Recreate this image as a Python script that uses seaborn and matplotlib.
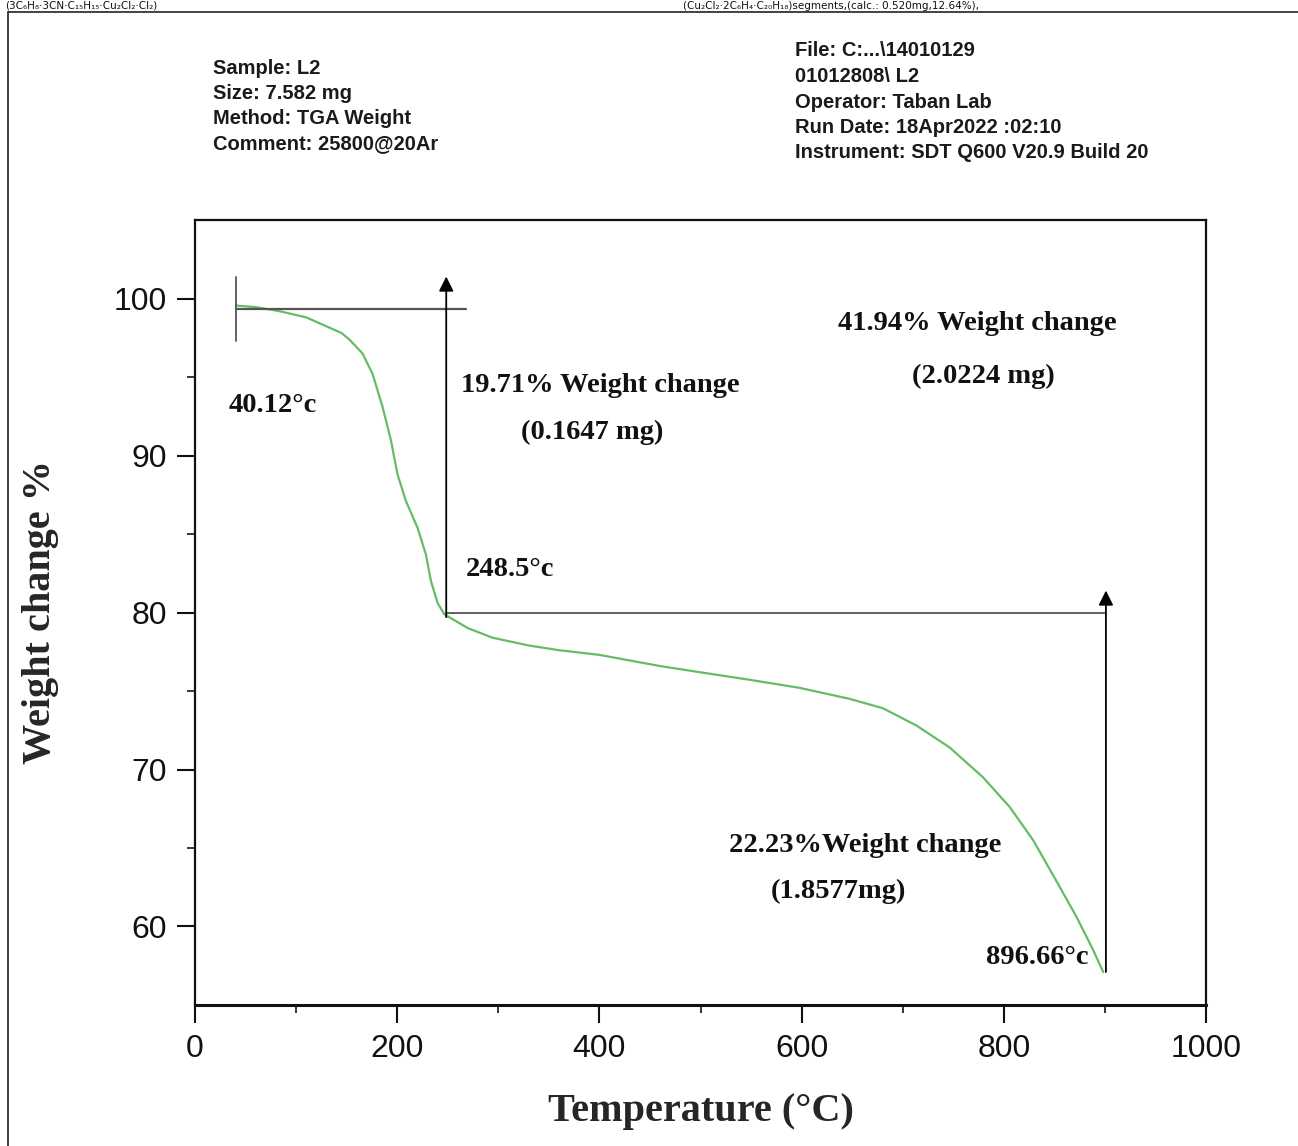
import numpy as np
import pandas as pd
import matplotlib
matplotlib.use("Agg")
import matplotlib.pyplot as plt
from matplotlib.lines import Line2D
from matplotlib.ticker import FixedLocator
import seaborn as sns

# ---------------- data ----------------
temperature = [40.6, 60, 83, 110, 132.7, 145, 152.5, 165.7, 175.6, 185.5, 193.7, 200.3,
               208.6, 220.1, 228.4, 233.4, 240, 246.5, 251.5, 270, 294, 330, 360,
               400, 459, 499, 550, 598, 647.5, 680.5, 713.6, 746.5, 779.5, 806,
               829, 852, 872, 888.4, 898.3]
weight = [99.55, 99.45, 99.2, 98.8, 98.15, 97.8, 97.4, 96.5, 95.2, 93.1, 91.0, 88.8,
          87.1, 85.4, 83.7, 82.0, 80.6, 79.9, 79.7, 79.0, 78.4, 77.9, 77.6,
          77.3, 76.6, 76.2, 75.7, 75.2, 74.5, 73.9, 72.8, 71.4, 69.5, 67.6,
          65.5, 62.9, 60.6, 58.5, 57.1]

# guide lines for the weight steps
step_temps = [40.6, 248.5, 901]
start_level = 99.36
mid_level = 80.0
start_marker = [97.3, 101.4]
top_line_end = 268
arrow1_top = 101.4
arrow2_bottom = 57.1
arrow2_top = 81.4

xticks = [0, 200, 400, 600, 800, 1000]
xminor = [100, 300, 500, 700, 900]
yticks = [60, 70, 80, 90, 100]
yminor = [65, 75, 85, 95]

header_left = ["Sample: L2", "Size: 7.582 mg", "Method: TGA Weight", "Comment: 25800@20Ar"]
header_right = ["File: C:...\\14010129", "01012808\\ L2", "Operator: Taban Lab",
                "Run Date: 18Apr2022 :02:10", "Instrument: SDT Q600 V20.9 Build 20"]
caption_left = "(3C₆H₈·3CN·C₁₅H₁₅·Cu₂Cl₂·Cl₂)"
caption_right = "(Cu₂Cl₂·2C₆H₄·C₂₀H₁₈)segments,(calc.: 0.520mg,12.64%),"

df = pd.DataFrame({"Temperature": temperature, "Weight": weight})

# ---------------- style ----------------
sns.set_theme(style="ticks")
plt.rcParams["font.family"] = ["Liberation Sans", "DejaVu Sans"]

W, H = 1298, 1146
fig = plt.figure(figsize=(W / 100, H / 100), dpi=100)
ax = fig.add_axes([195 / W, 1 - 1005 / H, 1011 / W, 785 / H])

sns.lineplot(data=df, x="Temperature", y="Weight", ax=ax, sort=False,
             estimator=None, color="#66bb66", lw=1.6)

ax.set_xlim(0, 1000)
ax.set_ylim(55, 105)
ax.set_xticks(xticks)
ax.set_yticks(yticks)
ax.xaxis.set_minor_locator(FixedLocator(xminor))
ax.yaxis.set_minor_locator(FixedLocator(yminor))
ax.tick_params(axis="both", which="major", direction="out", length=13, width=1.5,
               labelsize=23, colors="#111111")
ax.tick_params(axis="x", which="major", pad=8)
ax.tick_params(axis="y", which="major", pad=7)
ax.tick_params(axis="both", which="minor", direction="out", length=6, width=1.3)
for s in ax.spines.values():
    s.set_linewidth(1.6)
    s.set_color("#111111")
ax.spines["bottom"].set_linewidth(2.2)

serif = ["Liberation Serif", "DejaVu Serif"]
ax.set_xlabel("Temperature (°C)", fontsize=29, fontweight="bold", family=serif)
ax.set_ylabel("Weight change %", fontsize=29, fontweight="bold", family=serif)
ax.xaxis.set_label_coords(0.5, -0.112)
ax.yaxis.set_label_coords(-0.135, 0.5)

# ---------------- guide lines / arrows ----------------
gcol = "#555555"
ax.plot([step_temps[0], step_temps[0]], start_marker, color=gcol, lw=1.3)
ax.plot([step_temps[0], top_line_end], [start_level, start_level], color=gcol, lw=1.6)
ax.plot([step_temps[1], step_temps[2]], [mid_level, mid_level], color=gcol, lw=1.3)
ax.annotate("", xy=(step_temps[1], arrow1_top), xytext=(step_temps[1], weight[18]),
            arrowprops=dict(arrowstyle="-|>", color="black", lw=1.3, mutation_scale=22,
                            shrinkA=0, shrinkB=0))
ax.annotate("", xy=(step_temps[2], arrow2_top), xytext=(step_temps[2], arrow2_bottom),
            arrowprops=dict(arrowstyle="-|>", color="black", lw=1.3, mutation_scale=22,
                            shrinkA=0, shrinkB=0))

# ---------------- annotations ----------------
def atext(x, y, s, **kw):
    fig.text(x / W, 1 - y / H, s, fontsize=20.5, fontweight="bold", family=serif,
             ha="center", va="center", color="#111111", **kw)

atext(273, 405, "40.12°c")
atext(600, 386, "19.71% Weight change")
atext(592, 432, "(0.1647 mg)")
atext(510, 570, "248.5°c")
atext(977, 324, "41.94% Weight change")
atext(983, 376, "(2.0224 mg)")
atext(865, 845, "22.23%Weight change")
atext(838, 891, "(1.8577mg)")
atext(1037, 958, "896.66°c")

# ---------------- header ----------------
for i, s in enumerate(header_left):
    fig.text(213 / W, 1 - (68 + 25.3 * i) / H, s, fontsize=14.5, fontweight="bold",
             ha="left", va="center", color="#1a1a1a")
for i, s in enumerate(header_right):
    fig.text(795 / W, 1 - (51 + 25.5 * i) / H, s, fontsize=14.5, fontweight="bold",
             ha="left", va="center", color="#1a1a1a")

# caption remnants at very top (kept small so they fit above the frame)
fig.text(5 / W, 1 - 1 / H, caption_left, fontsize=7.5,
         family=["DejaVu Sans"], ha="left", va="top", color="#111111")
fig.text(683 / W, 1 - 1 / H, caption_right,
         fontsize=7.5, family=["DejaVu Sans"], ha="left", va="top", color="#111111")

# outer frame (top and left)
fig.add_artist(Line2D([8 / W, 1.0], [1 - 12 / H, 1 - 12 / H], color="#222222", lw=1.2,
                      transform=fig.transFigure))
fig.add_artist(Line2D([8 / W, 8 / W], [1 - 12 / H, 0.0], color="#222222", lw=1.2,
                      transform=fig.transFigure))

fig.savefig("out.png", dpi=100)
